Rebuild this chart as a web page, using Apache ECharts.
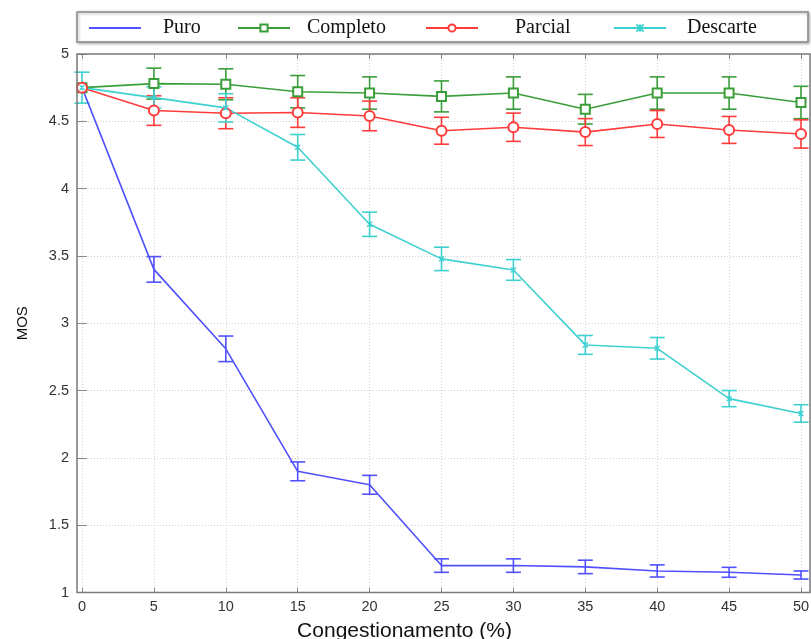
<!DOCTYPE html>
<html>
<head>
<meta charset="utf-8">
<script src="https://cdn.jsdelivr.net/npm/echarts@6/dist/echarts.min.js"></script>
<style>html,body{margin:0;padding:0;background:#fff}#c{width:811px;height:639px}</style>
</head>
<body>
<div id="c"></div>
<script>
// Data
const congestion = [0, 5, 10, 15, 20, 25, 30, 35, 40, 45, 50];
const puro      = [4.75, 3.40, 2.81, 1.90, 1.80, 1.20, 1.20, 1.19, 1.16, 1.15, 1.13];
const puroErr   = [0.00, 0.095, 0.095, 0.07, 0.07, 0.05, 0.05, 0.05, 0.045, 0.037, 0.03];
const completo    = [4.75, 4.78, 4.775, 4.72, 4.71, 4.685, 4.71, 4.59, 4.71, 4.71, 4.64];
const completoErr = [0.00, 0.115, 0.115, 0.12, 0.12, 0.115, 0.12, 0.11, 0.12, 0.12, 0.12];
const parcial    = [4.75, 4.58, 4.56, 4.565, 4.54, 4.43, 4.456, 4.42, 4.48, 4.436, 4.406];
const parcialErr = [0.00, 0.11, 0.115, 0.11, 0.11, 0.10, 0.105, 0.10, 0.10, 0.10, 0.105];
const descarte    = [4.75, 4.676, 4.60, 4.307, 3.735, 3.478, 3.396, 2.839, 2.814, 2.44, 2.33];
const descarteErr = [0.115, 0.08, 0.105, 0.095, 0.09, 0.087, 0.077, 0.07, 0.08, 0.06, 0.065];
const yTicks = [1, 1.5, 2, 2.5, 3, 3.5, 4, 4.5, 5];
const seriesNames = ['Puro', 'Completo', 'Parcial', 'Descarte'];

const colors = { Puro: '#5050ff', Completo: '#3a9e3a', Parcial: '#ff3b3b', Descarte: '#3fd0d0' };

function pairs(vals) { return congestion.map((x, i) => [x, vals[i]]); }
function errData(vals, errs) { return congestion.map((x, i) => [x, vals[i] - errs[i], vals[i] + errs[i]]); }

function errSeries(name, vals, errs) {
  const col = colors[name];
  return {
    type: 'custom', name: name + '_err', silent: true, z: 3,
    data: errData(vals, errs).filter(d => d[2] - d[1] > 0.001),
    encode: { x: 0, y: [1, 2] },
    renderItem: function (params, api) {
      const x = api.value(0);
      const lo = api.coord([x, api.value(1)]);
      const hi = api.coord([x, api.value(2)]);
      const hw = 7.5;
      const st = { stroke: col, lineWidth: 1.6, fill: null };
      return { type: 'group', children: [
        { type: 'line', shape: { x1: lo[0], y1: lo[1], x2: hi[0], y2: hi[1] }, style: st },
        { type: 'line', shape: { x1: lo[0] - hw, y1: lo[1], x2: lo[0] + hw, y2: lo[1] }, style: st },
        { type: 'line', shape: { x1: hi[0] - hw, y1: hi[1], x2: hi[0] + hw, y2: hi[1] }, style: st }
      ]};
    }
  };
}

function lineSeries(name, vals, symbol, size) {
  const col = colors[name];
  return {
    type: 'line', name: name, data: pairs(vals), z: 4,
    symbol: symbol, symbolSize: size, showSymbol: symbol !== 'none',
    lineStyle: { color: col, width: 1.6 },
    itemStyle: { color: col, borderColor: col, borderWidth: 1.3 },
    animation: false
  };
}

const legendStarts = [88, 237, 425, 613];
const legendTextPad = [17, 12, 32, 16];
const legends = seriesNames.map((n, i) => ({
  data: [i === 0 ? { name: n, itemStyle: { opacity: 0 } } : n],
  left: legendStarts[i], top: 18, padding: 0,
  itemWidth: 52, itemHeight: 9,
  textStyle: { fontFamily: 'Liberation Serif', fontSize: 20, color: '#111', padding: [0, 0, 0, legendTextPad[i]] },
  selectedMode: false
}));

const chart = echarts.init(document.getElementById('c'), null, { renderer: 'canvas' });
const axisLabelStyle = { fontFamily: 'Liberation Sans', fontSize: 14.5, color: '#333' };
chart.setOption({
  animation: false,
  backgroundColor: '#fff',
  legend: legends,
  grid: { left: 82, right: 10, top: 54, bottom: 46.5, containLabel: false, outerBoundsMode: 'none' },
  xAxis: [
    { type: 'value', min: 0, max: 50, interval: 5, position: 'bottom',
      name: 'Congestionamento (%)', nameLocation: 'middle', nameGap: 28,
      nameTextStyle: { fontFamily: 'Liberation Sans', fontSize: 21, color: '#111', padding: [0, 74, 0, 0] },
      axisLine: { show: false },
      axisTick: { show: true, inside: true, length: 5, lineStyle: { color: '#888' } },
      axisLabel: Object.assign({ margin: 7 }, axisLabelStyle),
      splitLine: { show: true, lineStyle: { color: '#cfcfcf', type: [1, 2], width: 1 } } },
    { type: 'value', min: 0, max: 50, interval: 5, position: 'top',
      axisLine: { show: false },
      axisTick: { show: true, inside: true, length: 5, lineStyle: { color: '#888' } },
      axisLabel: { show: false }, splitLine: { show: false } }
  ],
  yAxis: [
    { type: 'value', min: 1, max: 5, interval: 0.5, position: 'left', offset: 5,
      name: 'MOS', nameLocation: 'middle', nameGap: 47,
      nameTextStyle: { fontFamily: 'Liberation Sans', fontSize: 15, color: '#111' },
      axisLine: { show: false },
      axisTick: { show: true, inside: true, length: 5, lineStyle: { color: '#888' } },
      axisLabel: Object.assign({ margin: 8 }, axisLabelStyle),
      splitLine: { show: true, lineStyle: { color: '#cfcfcf', type: [1, 2], width: 1 } } },
    { type: 'value', min: 1, max: 5, interval: 0.5, position: 'right', offset: 9,
      axisLine: { show: false },
      axisTick: { show: true, inside: true, length: 5, lineStyle: { color: '#888' } },
      axisLabel: { show: false }, splitLine: { show: false } }
  ],
  graphic: [
    { type: 'rect', z: -1, shape: { x: 77, y: 12, width: 731, height: 30 },
      style: { fill: '#fff', stroke: '#8a8a8a', lineWidth: 1.5, shadowBlur: 3, shadowColor: 'rgba(0,0,0,0.3)', shadowOffsetX: 1, shadowOffsetY: 1 } },
    { type: 'rect', z: 10, silent: true, shape: { x: 77, y: 54, width: 733, height: 538.5 },
      style: { fill: null, stroke: '#7a7a7a', lineWidth: 1.5 } }
  ],
  series: [
    lineSeries('Puro', puro, 'none', 0),
    lineSeries('Completo', completo, 'emptyRect', 9),
    lineSeries('Parcial', parcial, 'emptyCircle', 10),
    lineSeries('Descarte', descarte, 'path://M0,0L10,10M10,0L0,10M5,0L5,10', 5),
    errSeries('Puro', puro, puroErr),
    errSeries('Completo', completo, completoErr),
    errSeries('Parcial', parcial, parcialErr),
    errSeries('Descarte', descarte, descarteErr)
  ]
});
</script>
</body>
</html>
